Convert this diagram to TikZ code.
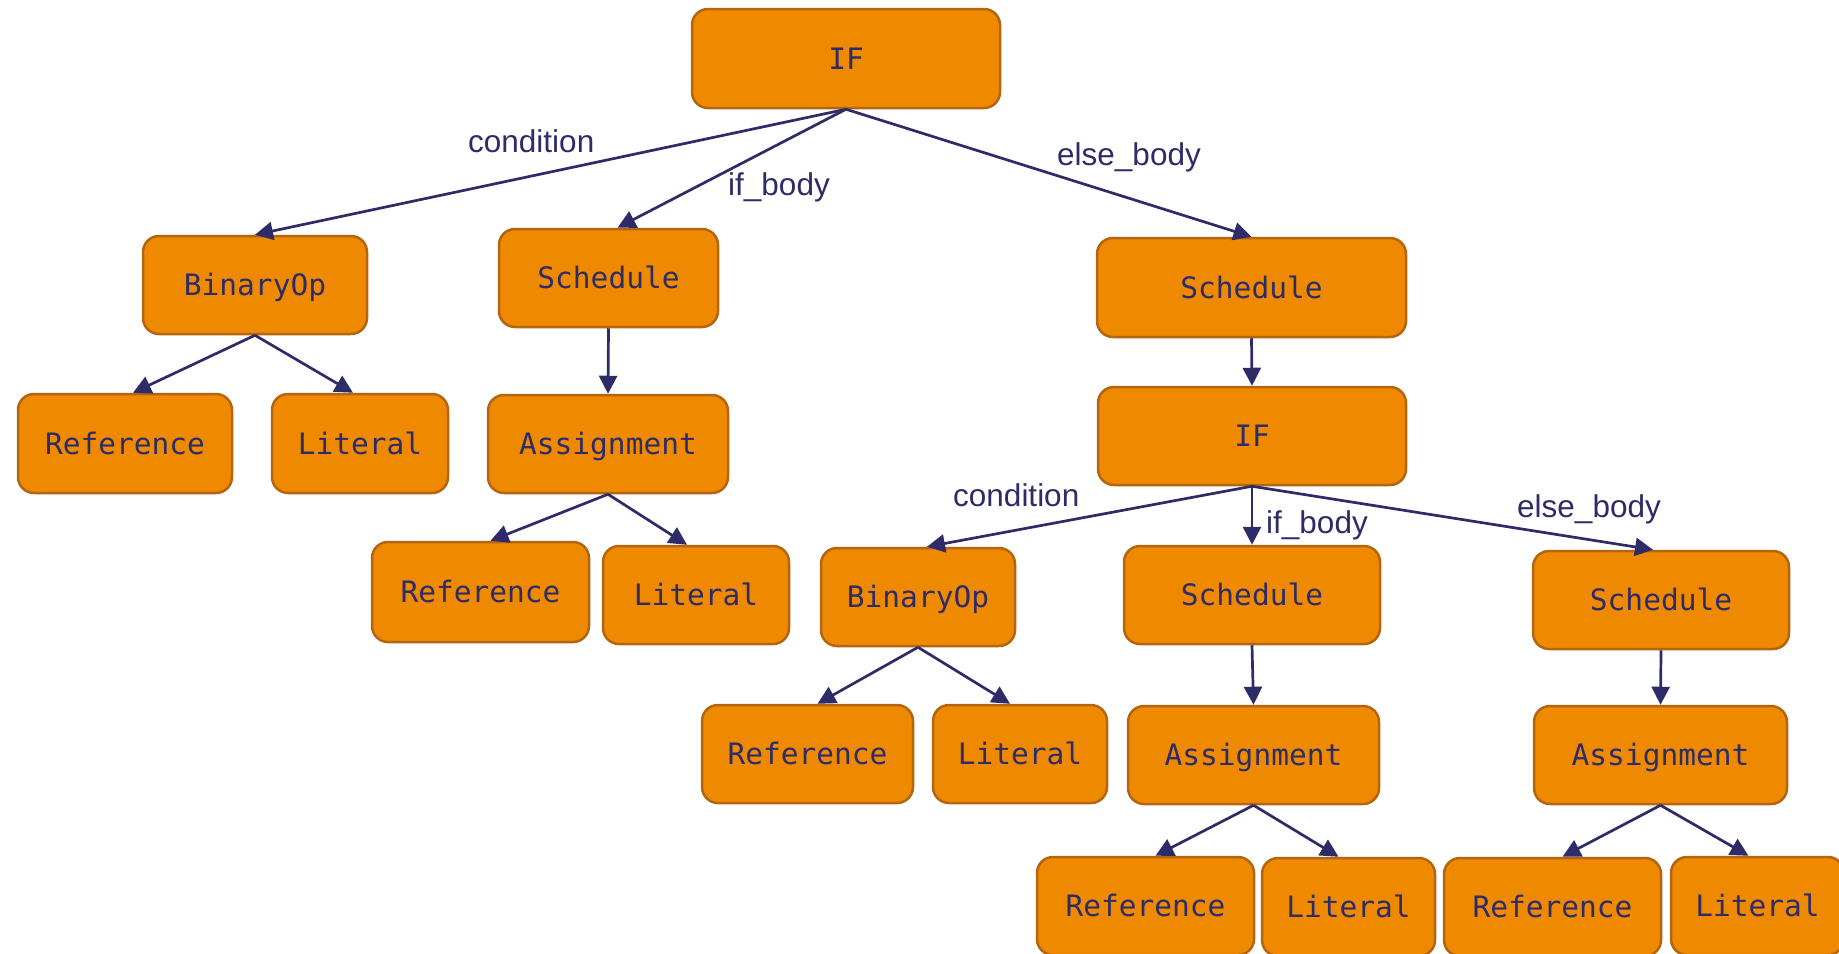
\documentclass[tikz,border=0pt]{standalone}
\usepackage{fontspec}
\setmainfont{Liberation Sans}
\newfontfamily\astmono{DejaVu Sans Mono}
\usetikzlibrary{arrows.meta,calc}

\definecolor{boxfill}{HTML}{EF8A00}
\definecolor{boxline}{HTML}{B5650F}
\definecolor{ink}{HTML}{2E2C68}

\tikzset{
  astnode/.style={draw=boxline, fill=boxfill, line width=2.5pt,
    rounded corners=16pt, inner sep=0pt, text=ink,
    font=\astmono\fontsize{29.5}{30}\selectfont,
    text height=21.5pt, text depth=0pt},
  edge/.style={draw=ink, line width=2.7pt,
    -{Triangle[length=18pt,width=18pt]}},
  elabel/.style={anchor=base west, inner sep=0pt, text=ink,
    font=\fontsize{31.5}{32}\selectfont},
}

\begin{document}
\begin{tikzpicture}[x=1pt, y=-1pt]
\useasboundingbox (0,0) rectangle (1839,953);
\clip (0,0) rectangle (1839,953);

% top-level IF statement
\node[astnode, minimum width=308pt, minimum height=99pt] (if1) at (846,58.5) {IF};

% its three branches
\node[astnode, minimum width=224pt, minimum height=98pt] (bin1) at (255,285) {BinaryOp};
\node[astnode, minimum width=219pt, minimum height=98pt] (sch1) at (608.5,278) {Schedule};
\node[astnode, minimum width=309pt, minimum height=99pt] (sch2) at (1251.5,287.5) {Schedule};

\node[astnode, minimum width=214pt, minimum height=99pt] (ref1) at (125,443.5) {Reference};
\node[astnode, minimum width=176pt, minimum height=99pt] (lit1) at (360,443.5) {Literal};
\node[astnode, minimum width=240pt, minimum height=98pt] (asg1) at (608,444) {Assignment};
\node[astnode, minimum width=308pt, minimum height=98pt] (if2) at (1252,436) {IF};

\node[astnode, minimum width=217pt, minimum height=100pt] (ref2) at (480.5,592) {Reference};
\node[astnode, minimum width=186pt, minimum height=98pt] (lit2) at (696,595) {Literal};

% nested IF in the else branch
\node[astnode, minimum width=194pt, minimum height=98pt] (bin2) at (918,597) {BinaryOp};
\node[astnode, minimum width=256pt, minimum height=98pt] (sch3) at (1252,595) {Schedule};
\node[astnode, minimum width=256pt, minimum height=98pt] (sch4) at (1661,600) {Schedule};

\node[astnode, minimum width=211pt, minimum height=98pt] (ref3) at (807.5,754) {Reference};
\node[astnode, minimum width=174pt, minimum height=98pt] (lit3) at (1020,754) {Literal};
\node[astnode, minimum width=251pt, minimum height=98pt] (asg2) at (1253.5,755) {Assignment};
\node[astnode, minimum width=253pt, minimum height=98pt] (asg3) at (1660.5,755) {Assignment};

\node[astnode, minimum width=217pt, minimum height=98pt] (ref4) at (1145.5,906) {Reference};
\node[astnode, minimum width=173pt, minimum height=98pt] (lit4) at (1348.5,907) {Literal};
\node[astnode, minimum width=217pt, minimum height=98pt] (ref5) at (1552.5,907) {Reference};
\node[astnode, minimum width=173pt, minimum height=98pt] (lit5) at (1757.5,906) {Literal};

% connectors
\draw[edge] (if1.south) -- (bin1.north);
\draw[edge] (if1.south) -- ($(sch1.north)+(9,0)$);
\draw[edge] (if1.south) -- (sch2.north);

\draw[edge] (bin1.south) -- ($(ref1.north)+(8,0)$);
\draw[edge] (bin1.south) -- ($(lit1.north)+(-7,0)$);
\draw[edge] (sch1.south) -- (asg1.north);
\draw[edge] (asg1.south) -- ($(ref2.north)+(10,0)$);
\draw[edge] (asg1.south) -- ($(lit2.north)+(-9,0)$);

\draw[edge] (sch2.south) -- (if2.north);
\draw[edge] (if2.south) -- ($(bin2.north)+(9,0)$);
\draw[edge] (if2.south) -- (sch3.north);
\draw[edge] (if2.south) -- ($(sch4.north)+(-8,0)$);

\draw[edge] (bin2.south) -- ($(ref3.north)+(10,0)$);
\draw[edge] (bin2.south) -- ($(lit3.north)+(-10,0)$);
\draw[edge] (sch3.south) -- (asg2.north);
\draw[edge] (asg2.south) -- ($(ref4.north)+(10,0)$);
\draw[edge] (asg2.south) -- ($(lit4.north)+(-10,0)$);
\draw[edge] (sch4.south) -- (asg3.north);
\draw[edge] (asg3.south) -- ($(ref5.north)+(10,0)$);
\draw[edge] (asg3.south) -- ($(lit5.north)+(-9,0)$);

% edge labels
\node[elabel] (lcond1) at (468,152) {condition};
\node[elabel] (lif1) at (728,195) {if\_body};
\node[elabel] (lelse1) at (1057,165) {else\_body};
\node[elabel] (lcond2) at (953,506) {condition};
\node[elabel] (lif2) at (1266,533) {if\_body};
\node[elabel] (lelse2) at (1517,517) {else\_body};
\end{tikzpicture}
\end{document}
